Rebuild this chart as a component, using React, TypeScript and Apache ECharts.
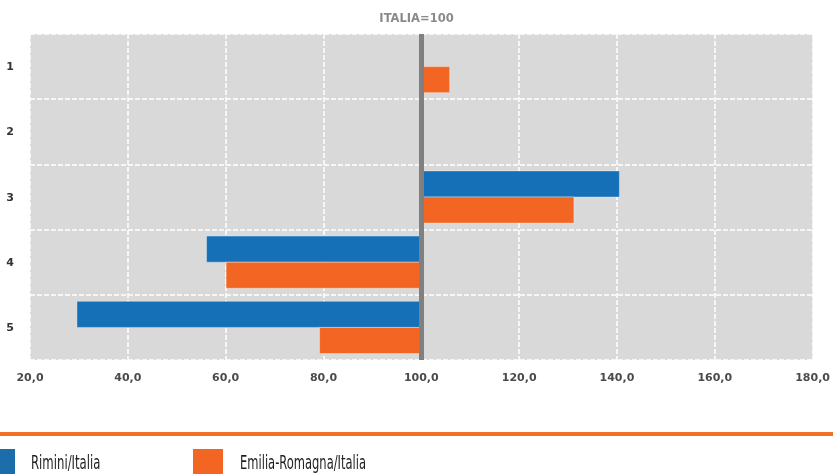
import React, { useEffect, useRef } from "react";
import * as echarts from "echarts";

const categories = ["1", "2", "3", "4", "5"];
const riminiValues: (number | null)[] = [null, null, 140.5, 56.1, 29.6];
const emiliaValues: (number | null)[] = [105.8, null, 131.2, 60.1, 79.2];
const baseValue = 100;
const xMin = 20;
const xMax = 180;
const xInterval = 20;
const seriesNames = ["Rimini/Italia", "Emilia-Romagna/Italia"];
const titleText = "ITALIA=100";

const BLUE = "#1570b8";
const ORANGE = "#f26522";

function makeRender(color: string, upper: boolean) {
  return (params: any, api: any) => {
    const v = api.value(0);
    const cat = api.value(1);
    if (v == null || isNaN(v)) return null;
    const bandH = api.size([0, 1])[1];
    const barH = bandH * 0.4;
    const p0 = api.coord([baseValue, cat]);
    const p1 = api.coord([v, cat]);
    const x = Math.min(p0[0], p1[0]);
    const w = Math.abs(p1[0] - p0[0]);
    const y = upper ? p0[1] - barH : p0[1];
    return {
      type: "rect",
      shape: { x, y, width: w, height: barH },
      style: { fill: color, stroke: "rgba(255,255,255,0.35)", lineWidth: 1 },
    };
  };
}

export default function App() {
  const ref = useRef<HTMLDivElement>(null);
  useEffect(() => {
    if (!ref.current) return;
    const chart = echarts.init(ref.current, null, { renderer: "svg" });
    const rData = riminiValues
      .map((v, i) => (v == null ? null : [v, i]))
      .filter((d) => d !== null);
    const eData = emiliaValues
      .map((v, i) => (v == null ? null : [v, i]))
      .filter((d) => d !== null);
    chart.setOption({
      animation: false,
      title: {
        text: titleText,
        left: "center",
        top: 7,
        textStyle: {
          fontFamily: "DejaVu Sans",
          fontSize: 11.5,
          fontWeight: "bold",
          color: "#8a8a8a",
        },
      },
      grid: {
        left: 30,
        right: 19,
        top: 34,
        bottom: 114,
        show: true,
        backgroundColor: "#d9d9d9",
        borderWidth: 0,
      },
      xAxis: {
        type: "value",
        min: xMin,
        max: xMax,
        interval: xInterval,
        axisLine: { show: false },
        axisTick: { show: false },
        axisLabel: {
          margin: 12,
          fontFamily: "DejaVu Sans",
          fontSize: 11,
          fontWeight: "bold",
          color: "#4a4a4a",
          formatter: (v: number) => v.toFixed(1).replace(".", ","),
        },
        splitLine: {
          show: true,
          lineStyle: { color: "#ffffff", width: 1.5, type: [5, 2] },
        },
      },
      yAxis: {
        type: "category",
        data: categories,
        inverse: true,
        axisLine: { show: false },
        axisTick: { show: false },
        axisLabel: {
          margin: 16,
          fontFamily: "DejaVu Sans",
          fontSize: 11,
          fontWeight: "bold",
          color: "#333333",
        },
        splitLine: {
          show: true,
          lineStyle: { color: "#ffffff", width: 1.5, type: [5, 2] },
        },
      },
      series: [
        {
          name: seriesNames[0],
          type: "custom",
          renderItem: makeRender(BLUE, true),
          encode: { x: 0, y: 1 },
          data: rData,
        },
        {
          name: seriesNames[1],
          type: "custom",
          renderItem: makeRender(ORANGE, false),
          encode: { x: 0, y: 1 },
          data: eData,
          markLine: {
            silent: true,
            symbol: "none",
            label: { show: false },
            lineStyle: { color: "#808080", width: 5, type: "solid" },
            data: [{ xAxis: baseValue }],
          },
        },
      ],
      graphic: [
        {
          type: "rect",
          shape: { x: 0, y: 432, width: 833, height: 4 },
          style: { fill: "#f07028" },
        },
        {
          type: "rect",
          shape: { x: -15, y: 449, width: 30, height: 30 },
          style: { fill: "#1b6ea9" },
        },
        {
          type: "text",
          x: 31,
          y: 463,
          scaleX: 0.684,
          style: {
            text: seriesNames[0],
            fontFamily: "Liberation Sans Narrow, DejaVu Sans Condensed",
            fontSize: 19,
            lineHeight: 19,
            fill: "#1e1e1e",
            verticalAlign: "middle",
          },
        },
        {
          type: "rect",
          shape: { x: 193, y: 449, width: 30, height: 30 },
          style: { fill: ORANGE },
        },
        {
          type: "text",
          x: 240,
          y: 463,
          scaleX: 0.674,
          style: {
            text: seriesNames[1],
            fontFamily: "Liberation Sans Narrow, DejaVu Sans Condensed",
            fontSize: 19,
            lineHeight: 19,
            fill: "#1e1e1e",
            verticalAlign: "middle",
          },
        },
      ],
    });
    return () => chart.dispose();
  }, []);
  return (
    <div
      ref={ref}
      style={{ position: "fixed", left: 0, top: 0, width: 833, height: 474 }}
    />
  );
}
